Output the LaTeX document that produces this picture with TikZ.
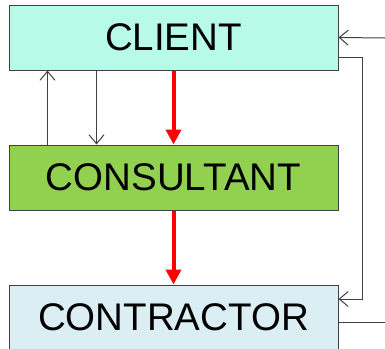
\documentclass[tikz,border=0pt]{standalone}
\usepackage{fontspec}
\setmainfont{Liberation Sans}
\usetikzlibrary{arrows.meta, positioning}

\definecolor{clientcol}{RGB}{184,250,232}
\definecolor{consultcol}{RGB}{146,208,80}
\definecolor{contractcol}{RGB}{218,238,244}
\definecolor{edgecol}{RGB}{64,64,64}

\begin{document}
\begin{tikzpicture}[x=1pt, y=-1pt, node distance=74pt]

% --- Define Styles ---
\tikzstyle{party} = [rectangle, minimum width=329pt, minimum height=65pt, inner sep=0pt, text centered, draw=edgecol, line width=1pt, font=\fontsize{38.5}{40}\selectfont]
\tikzstyle{arrow} = [draw=edgecol, line width=1pt, -{Straight Barb[length=9pt, width=15pt]}]
\tikzstyle{link} = [draw=edgecol, line width=1pt]
\tikzstyle{mainflow} = [draw=red, line width=4pt, -{Triangle[length=15pt, width=15pt]}]

\useasboundingbox (0,0) rectangle (385,348);

% --- Nodes ---
\node (client) [party, fill=clientcol] at (173.5,37.5) {CLIENT};
\node (consultant) [party, fill=consultcol, below=of client] {CONSULTANT};
\node (contractor) [party, fill=contractcol, below=of consultant] {CONTRACTOR};

\coordinate (feedin) at (385,38);
\coordinate (feedout) at (385,322);

% --- Arrows ---
\draw [arrow] ([xshift=39pt]consultant.north west) -- ([xshift=39pt]client.south west);
\draw [arrow] ([xshift=88pt]client.south west) -- ([xshift=88pt]consultant.north west);
\draw [mainflow] (client) -- (consultant);
\draw [mainflow] (consultant) -- (contractor);
\draw [arrow] ([yshift=-19.5pt]client.east) -- ++(24,0) |- ([yshift=18.5pt]contractor.east);
\draw [arrow] (feedin) -- (client.east);
\draw [link] (contractor.east |- feedout) -- (feedout);

\end{tikzpicture}
\end{document}
